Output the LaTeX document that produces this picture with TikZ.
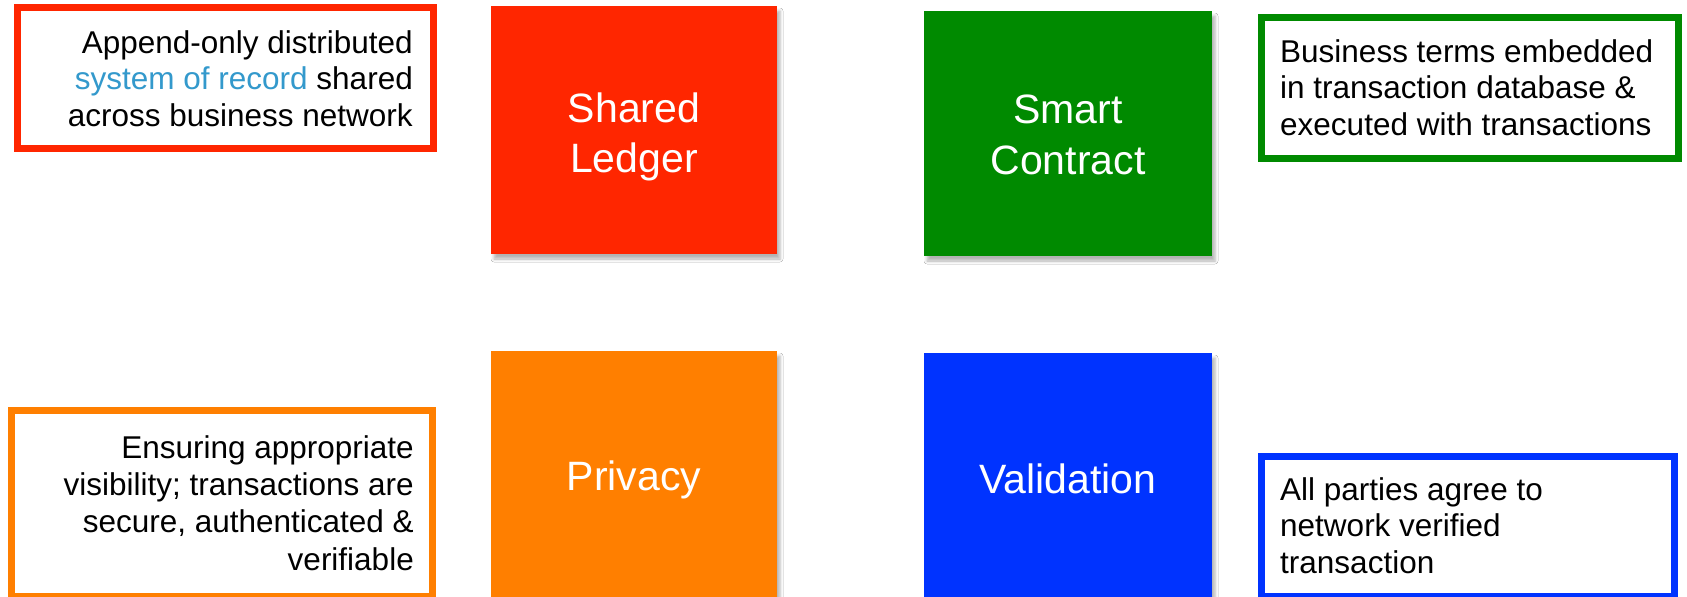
\documentclass[tikz,border=0pt]{standalone}
\usepackage{fontspec}
\setmainfont{Liberation Sans}
\usetikzlibrary{shadows.blur}
\definecolor{cred}{HTML}{FF2600}
\definecolor{cgreen}{HTML}{008A00}
\definecolor{corange}{HTML}{FF7F00}
\definecolor{cblue}{HTML}{0033FF}
\definecolor{clink}{HTML}{3399CC}
\begin{document}
\begin{tikzpicture}[x=1pt,y=-1pt,
  sq/.style={inner sep=0pt, outer sep=0pt,
    blur shadow={shadow xshift=3pt, shadow yshift=-5pt, shadow blur radius=3pt, shadow opacity=30}},
  frame/.style={draw, line width=7pt, fill=white, inner sep=0pt, outer sep=0pt},
  desc/.style={inner sep=0pt, text=black, font=\fontsize{31.5}{36.5}\selectfont},
  big/.style={inner sep=0pt, text=white, align=center, font=\fontsize{41}{50}\selectfont}
]
\useasboundingbox (0,0) rectangle (1687,597);
\clip (0,0) rectangle (1687,597);
\fill[white] (0,0) rectangle (1687,597);

% coloured squares
\node[sq, fill=cred, minimum width=286pt, minimum height=248pt] (ledger) at (634,130) {};
\node[sq, fill=cgreen, minimum width=288pt, minimum height=245pt] (contract) at (1068,133.5) {};
\node[sq, fill=corange, minimum width=286pt, minimum height=260pt] (privacy) at (634,481) {};
\node[sq, fill=cblue, minimum width=288pt, minimum height=260pt] (validation) at (1068,483) {};

\node[big, anchor=north] (ledgert) at (634,87) {\strut Shared\\Ledger};
\node[big, anchor=north] (contractt) at (1068,88.3) {\strut Smart\\[1pt]Contract};
\node[big, anchor=base] (privacyt) at (634,490) {Privacy};
\node[big, anchor=base] (validationt) at (1068,493) {Validation};

% description frames
\node[frame, draw=cred, minimum width=416pt, minimum height=141pt] (redbox) at (225.5,78) {};
\node[frame, draw=cgreen, minimum width=417pt, minimum height=141pt] (greenbox) at (1470,88) {};
\node[frame, draw=corange, minimum width=421pt, minimum height=186pt] (orangebox) at (222,503.5) {};
\node[frame, draw=cblue, minimum width=413pt, minimum height=140.5pt] (bluebox) at (1468,526.25) {};

\node[desc, anchor=north east, align=right] (redtext) at (413,27.45)
  {\strut Append-only distributed\\\textcolor{clink}{system of record} shared\\across business network};
\node[desc, anchor=north west, align=left] (greentext) at (1280,36.45)
  {\strut Business terms embedded\\in transaction database \&\\executed with transactions};
\node[desc, anchor=north east, align=right, font=\fontsize{31.5}{37.3}\selectfont] (orangetext) at (414,431.9)
  {\strut Ensuring appropriate\\visibility; transactions are\\secure, authenticated \&\\verifiable};
\node[desc, anchor=north west, align=left] (bluetext) at (1280,474.45)
  {\strut All parties agree to\\network verified\\transaction};
\end{tikzpicture}
\end{document}
